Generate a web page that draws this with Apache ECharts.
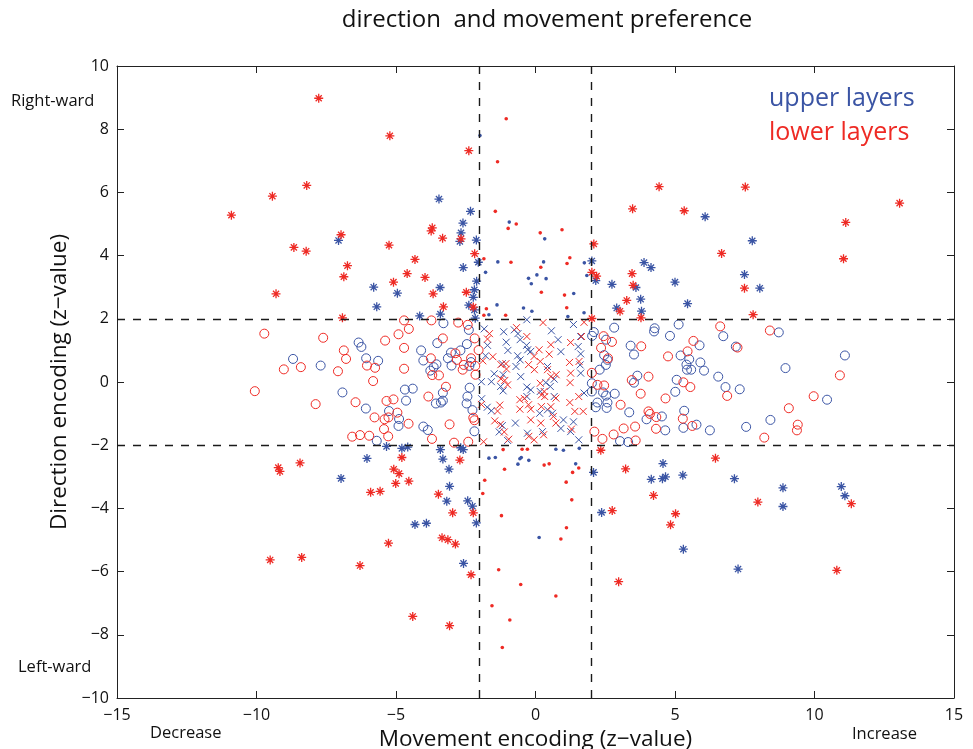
<!DOCTYPE html>
<html>
<head>
<meta charset="utf-8">
<script src="https://cdn.jsdelivr.net/npm/echarts@6/dist/echarts.min.js"></script>
<style>html,body{margin:0;padding:0;background:#fff}#c{width:973px;height:749px}</style>
</head>
<body>
<div id="c"></div>
<script>
// ---- data (z-values) ----
const thresholds = [-2, 2];
const xTicks = [-15, -10, -5, 0, 5, 10, 15];
const yTicks = [-10, -8, -6, -4, -2, 0, 2, 4, 6, 8, 10];

const upperStars = [[-3.46,5.79],[-2.33,5.40],[-2.60,5.03],[-2.67,4.72],[-2.71,4.45],[-2.12,4.49],[-7.06,4.48],[-2.05,3.79],[-2.59,3.62],
[6.08,5.23],[2.02,3.83],[3.89,3.78],[4.14,3.62],[7.49,3.40],[7.77,4.47],
[-2.11,3.19],[-5.80,3.00],[-4.95,2.81],[-3.42,2.99],[-2.19,2.92],[-2.23,2.68],[-5.69,2.38],[-2.39,2.43],[-2.19,2.28],[-4.15,2.09],[-3.41,2.15],[-2.16,2.02],
[2.16,3.21],[2.74,3.09],[3.60,2.99],[5.00,3.16],[3.77,2.62],[5.45,2.48],[2.91,2.34],[3.80,2.24],[8.04,2.97],
[-5.34,-2.04],[-4.79,-2.10],[-4.58,-2.06],[-3.41,-2.14],[-2.68,-2.08],[-2.59,-2.14],[-6.04,-2.42],[-3.32,-2.44],[-3.10,-2.76],[-6.97,-3.05],[-3.08,-3.30],
[-3.18,-3.77],[-2.43,-3.76],[-2.26,-3.93],[-4.32,-4.51],[-3.91,-4.47],[-2.12,-4.46],[-2.58,-5.74],
[4.57,-2.58],[2.08,-2.86],[4.15,-3.08],[4.55,-3.06],[4.66,-3.00],[5.28,-2.95],[7.13,-3.06],[2.37,-4.13],[5.30,-5.29],[7.26,-5.92],
[8.87,-3.35],[10.96,-3.31],[8.87,-3.94],[11.09,-3.60]];

const lowerStars = [[-7.77,8.98],[-8.20,6.22],[-9.43,5.88],[-10.90,5.28],[-8.66,4.26],[-8.22,4.14],
[-5.22,7.79],[-2.39,7.32],[-3.70,4.88],[-3.74,4.78],[-3.33,4.55],[-2.67,4.53],[-6.97,4.66],[-5.25,4.33],[-2.18,4.06],[-4.32,3.88],[-6.74,3.68],[-6.87,3.33],[-4.60,3.43],[-3.96,3.31],
[4.43,6.18],[3.48,5.48],[5.33,5.42],[7.52,6.17],[6.67,4.07],[2.09,4.37],[2.19,3.35],[3.46,3.43],[2.02,3.47],
[13.05,5.66],[11.12,5.05],[11.04,3.90],
[-9.30,2.79],[-5.09,3.16],[-3.67,2.79],[-2.48,2.84],[-3.30,2.38],[-2.23,2.37],[-6.92,2.03],
[3.50,3.06],[7.49,2.97],[3.27,2.58],[3.03,2.24],[3.78,2.03],[7.80,2.13],[2.02,2.01],
[-9.22,-2.71],[-9.16,-2.83],[-8.44,-2.56],[-4.79,-2.39],[-2.71,-2.47],[-5.08,-2.76],[-4.89,-2.90],[-5.01,-3.21],[-4.54,-3.14],
[-5.91,-3.49],[-5.57,-3.46],[-3.48,-3.55],[-2.97,-4.14],[-2.23,-4.14],[-3.35,-4.93],[-3.14,-4.99],[-2.87,-5.13],[-5.27,-5.10],[-6.29,-5.81],[-2.31,-6.10],[-4.40,-7.42],[-3.08,-7.71],
[-9.51,-5.63],[-8.38,-5.55],
[2.34,-2.16],[6.45,-2.41],[3.23,-2.75],[4.23,-3.59],[2.75,-4.07],[5.02,-4.17],[4.84,-4.52],[2.98,-6.32],
[7.97,-3.80],[11.32,-3.85],[10.80,-5.96]];

const upperCircles = [[-8.69,0.73],[-7.70,0.52],
[-3.30,1.86],[-2.39,1.65],[-6.34,1.25],[-6.24,1.11],[-3.52,1.23],[-2.46,1.20],[-4.10,1.00],[-3.03,0.93],[-2.69,1.00],[-6.07,0.75],[-5.64,0.67],[-4.02,0.68],[-3.14,0.75],[-3.55,0.56],[-3.65,0.47],[-3.01,0.52],[-2.37,0.51],[-2.31,0.63],[-3.77,0.36],[-6.92,-0.33],[-4.68,-0.24],[-4.40,-0.21],[-2.36,-0.18],[-3.32,-0.34],[-4.64,-0.59],[-3.57,-0.68],[-3.39,-0.65],[-3.32,-0.59],[-2.44,-0.46],[-2.47,-0.68],[-6.08,-0.84],[-5.25,-0.92],[-2.26,-0.89],[-4.89,-1.17],[-4.91,-1.39],[-4.02,-1.41],[-3.86,-1.52],[-2.19,-1.56],[-5.69,-1.86],
[2.09,1.58],[2.03,1.46],[2.82,1.72],[4.27,1.70],[4.25,1.60],[5.13,1.82],[4.82,1.46],[6.73,1.45],[2.53,1.34],[3.41,1.15],[3.53,0.87],[5.88,1.16],[7.18,1.12],[2.46,0.85],[2.58,0.70],[2.52,0.54],[5.20,0.84],[5.51,0.72],[5.41,0.55],[5.91,0.62],[5.43,0.39],[5.58,0.39],[6.04,0.36],[2.30,0.39],[3.65,0.20],[3.53,-0.02],[5.06,0.07],[6.55,0.17],[6.81,-0.16],[7.32,-0.23],[2.02,-0.04],[2.02,-0.30],[2.42,-0.33],[2.53,-0.43],[2.84,-0.37],[5.01,-0.31],[2.22,-0.65],[2.58,-0.65],[2.16,-0.80],[2.55,-0.82],[3.36,-0.96],[5.33,-0.91],[4.53,-1.09],[3.98,-1.18],[5.77,-1.35],[5.30,-1.45],[4.65,-1.53],[6.25,-1.53],[7.55,-1.42],[3.03,-1.87],[3.32,-1.90],
[8.72,1.57],[11.09,0.84],[8.96,0.44],[10.45,-0.56],[8.42,-1.20]];

const lowerCircles = [[-9.72,1.53],[-7.61,1.40],[-9.02,0.40],[-8.41,0.47],[-10.06,-0.29],[-7.88,-0.70],
[-4.71,1.95],[-3.73,1.95],[-2.77,1.88],[-4.54,1.68],[-2.43,1.81],[-4.91,1.51],[-5.39,1.31],[-3.32,1.38],[-2.18,1.38],[-4.71,1.08],[-6.87,1.00],[-6.79,0.73],[-2.04,1.01],[-2.87,0.91],[-3.75,0.75],[-2.82,0.70],[-2.31,0.75],[-6.04,0.52],[-5.75,0.45],[-4.71,0.42],[-7.08,0.34],[-2.57,0.54],[-2.61,0.39],[-2.16,0.51],[-3.70,0.22],[-3.46,0.21],[-2.15,0.23],[-5.82,0.03],[-3.21,-0.15],[-3.84,-0.46],[-6.45,-0.64],[-5.34,-0.60],[-5.09,-0.55],[-4.95,-0.97],[-5.77,-1.12],[-5.41,-1.18],[-5.27,-1.12],[-2.23,-1.13],[-2.19,-1.21],[-3.08,-1.34],[-4.55,-1.32],[-5.43,-1.49],[-6.57,-1.73],[-6.29,-1.68],[-5.96,-1.70],[-5.28,-1.72],[-3.71,-1.80],[-2.92,-1.92],[-2.41,-1.89],
[2.44,1.45],[2.74,1.27],[2.35,1.08],[3.79,1.13],[5.66,1.30],[6.62,1.76],[7.24,1.09],[5.45,0.97],[4.75,0.81],[2.60,0.75],[2.02,0.29],[4.05,0.17],[3.45,0.06],[5.30,-0.01],[5.55,-0.16],[2.22,-0.09],[2.46,-0.11],[3.77,-0.37],[4.66,-0.52],[6.87,-0.44],[3.05,-0.72],[4.05,-0.93],[4.10,-1.01],[4.33,-1.11],[5.28,-1.16],[3.57,-1.41],[3.16,-1.47],[4.32,-1.48],[5.62,-1.39],[2.11,-1.57],[2.80,-1.66],[2.40,-1.80],[3.59,-1.85],
[8.40,1.63],[10.91,0.21],[9.97,-0.45],[9.08,-0.83],[9.40,-1.35],[9.37,-1.53],[8.20,-1.76]];

const upperDots = [[-1.99,7.80],[-0.94,5.06],[-1.35,3.80],[-1.79,3.47],[0.05,3.39],[0.33,4.53],[0.29,3.80],[1.75,3.77],[1.84,3.37],
[-0.25,3.28],[-0.15,3.11],[-1.38,2.44],[-0.43,2.34],[-0.13,2.24],[-1.67,2.13],
[1.37,2.80],[1.74,2.19],[1.16,2.07],[0.38,3.27],
[-1.67,-2.41],[-1.44,-2.39],[-0.56,-2.43],[-0.51,-2.39],[-0.24,-2.48],[-0.63,-2.60],
[0.73,-2.13],[1.00,-2.16],[1.57,-2.10],[1.44,-2.59],[0.13,-4.92]];

const lowerDots = [[-1.05,8.33],[-1.36,6.97],[-1.44,5.40],[-0.69,5.00],[-0.98,4.86],[-1.85,3.90],[-0.88,3.79],[0.17,4.72],[0.95,4.82],[1.23,3.93],[1.13,3.75],[0.19,3.63],
[-1.76,2.32],[-1.85,2.11],[-1.07,2.11],
[0.21,2.84],[1.04,2.75],[1.12,2.35],
[-1.16,-2.14],[-0.48,-2.13],[-0.29,-2.13],[-1.11,-2.76],[-1.82,-3.11],
[0.31,-2.63],[0.49,-2.59],[1.55,-2.72],[1.33,-2.86],[1.10,-3.17],
[1.30,-3.73],[1.11,-4.61],[0.91,-4.97],[0.73,-6.77],
[-1.89,-3.53],[-1.22,-4.23],[-1.32,-5.94],[-0.53,-6.41],[-1.56,-7.08],[-0.92,-7.53],[-1.19,-8.40]];

const upperCrosses = [[-0.31,1.97],[-1.84,1.68],[-1.14,1.59],[-0.76,1.65],[-0.63,1.53],[-0.55,1.34],[-1.72,1.16],[-1.05,1.26],[-0.99,1.00],[-0.32,1.16],[-0.28,1.02],[-0.17,0.97],[-1.79,0.83],[-1.19,0.58],[-0.64,0.83],[-0.55,0.70],[-0.70,0.49],[-1.48,0.26],[-1.16,0.23],[-0.53,0.17],[-1.94,0.01],[-1.58,0.01],[-1.25,-0.14],[-1.16,-0.28],[-0.31,-0.16],[-0.17,-0.25],[-1.93,-0.53],[-0.31,-0.46],[-1.73,-0.80],[-1.58,-0.91],[-0.72,-1.30],[-1.19,-1.38],[-1.30,-1.58],[-1.00,-1.85],[-0.29,-1.62],
[0.57,1.62],[1.36,1.82],[0.91,0.96],[1.53,1.12],[1.62,0.89],[0.81,1.34],[1.60,0.54],[1.62,0.28],[0.67,0.09],[0.37,-0.02],[0.53,-0.14],[0.17,-0.30],[0.67,-0.46],[0.43,-0.88],[0.15,-0.99],[0.61,-0.99],[1.00,-1.20],[1.36,-1.26],[0.91,-1.47],[0.25,-1.57],[1.26,-1.57],[1.55,-1.83],[1.62,1.44],[0.43,0.49],[1.74,-0.35]];

const lowerCrosses = [[-0.68,1.72],[-0.31,1.44],[-1.65,1.53],[-1.72,1.36],[-1.53,0.80],[-1.89,0.67],[-1.24,0.55],[-1.06,0.58],[-1.04,0.41],[-0.05,0.81],[-0.25,0.55],[-0.04,0.39],[-1.00,-0.09],[-1.10,0.05],[-1.24,0.10],[-0.40,-0.52],[-0.56,-0.56],[-0.25,-0.72],[-0.56,-0.86],[-0.17,-0.86],[-1.94,-0.71],[-1.28,-0.73],[-1.36,-0.92],[-1.26,-1.34],[-1.46,-1.23],[-1.12,-1.58],[-0.17,-1.20],[-0.24,-1.72],[-0.05,-1.83],[-0.96,-1.81],[-1.86,-1.89],
[0.27,1.88],[1.74,1.89],[1.26,1.25],[1.65,1.44],[0.55,1.18],[0.13,1.02],[0.49,0.88],[0.17,0.65],[1.22,0.62],[1.56,0.65],[0.43,0.39],[1.26,0.28],[0.74,0.23],[0.55,0.17],[1.24,-0.02],[0.17,-0.04],[0.31,-0.30],[0.21,-0.41],[0.33,-0.46],[0.73,-0.51],[1.55,-0.46],[1.23,-0.65],[1.71,-0.93],[1.41,-0.93],[0.21,-0.78],[0.55,-0.78],[0.64,-1.09],[0.19,-1.30],[1.29,-1.49],[0.29,-1.67],[0.73,-1.30]];

// ---- styling ----
const BLUE = '#3a54a4';
const RED = '#ee2a24';
const FONT = 'Open Sans';
const STAR = 'path://M5,0L5,10M0,5L10,5M1.6,1.6L8.4,8.4M8.4,1.6L1.6,8.4';
const CROSS = 'path://M0,0L10,10M10,0L0,10';
const minus = v => String(v).replace('-', '\u2212');

function lineMark(data, color, symbol, size, bw) {
  return {
    type: 'scatter', data: data, symbol: symbol, symbolSize: size,
    itemStyle: { color: 'rgba(0,0,0,0)', borderColor: color, borderWidth: bw, opacity: 1 },
    emphasis: { disabled: true }, animation: false, silent: true
  };
}
function dotMark(data, color) {
  return {
    type: 'scatter', data: data, symbol: 'circle', symbolSize: 3.6,
    itemStyle: { color: color, opacity: 1 }, emphasis: { disabled: true }, animation: false, silent: true
  };
}

const dashStyle = { color: '#1a1a1a', width: 1.4, type: [8, 8] };
const guides = {
  type: 'scatter', data: [], silent: true, animation: false,
  markLine: {
    silent: true, symbol: 'none', animation: false, label: { show: false },
    lineStyle: dashStyle,
    data: thresholds.map(v => ({ xAxis: v })).concat(thresholds.map(v => ({ yAxis: v })))
  }
};

const chart = echarts.init(document.getElementById('c'), null, { renderer: 'canvas' });
const axisCommon = {
  axisLine: { show: true, onZero: false, lineStyle: { color: '#222', width: 1 } },
  axisTick: { show: true, inside: true, length: 7, lineStyle: { color: '#222', width: 1 } },
  splitLine: { show: false }
};
const txt = (t, x, y, size, color) => ({
  type: 'text', x: x, y: y, silent: true,
  style: { text: t, fill: color || '#111', font: size + 'px "Open Sans"', verticalAlign: 'middle' }
});
chart.setOption({
  animation: false,
  grid: { left: 117, right: 19, top: 66, bottom: 51, outerBoundsMode: 'none', containLabel: false },
  xAxis: [
    Object.assign({}, axisCommon, {
      type: 'value', min: xTicks[0], max: xTicks[xTicks.length - 1], interval: 5, position: 'bottom',
      name: 'Movement encoding (z\u2212value)', nameLocation: 'middle', nameGap: 27,
      nameTextStyle: { fontFamily: FONT, fontSize: 22.5, color: '#111' },
      axisLabel: { fontFamily: FONT, fontSize: 16, color: '#111', margin: 9, formatter: minus }
    }),
    Object.assign({}, axisCommon, {
      type: 'value', min: xTicks[0], max: xTicks[xTicks.length - 1], interval: 5, position: 'top',
      axisLabel: { show: false }
    })
  ],
  yAxis: [
    Object.assign({}, axisCommon, {
      type: 'value', min: yTicks[0], max: yTicks[yTicks.length - 1], interval: 2, position: 'left',
      name: 'Direction encoding (z\u2212value)', nameLocation: 'middle', nameGap: 41, nameRotate: 90,
      nameTextStyle: { fontFamily: FONT, fontSize: 22.5, color: '#111' },
      axisLabel: { fontFamily: FONT, fontSize: 16, color: '#111', margin: 8, formatter: minus }
    }),
    Object.assign({}, axisCommon, {
      type: 'value', min: yTicks[0], max: yTicks[yTicks.length - 1], interval: 2, position: 'right',
      axisLabel: { show: false }
    })
  ],
  graphic: [
    { type: 'text', x: 547, y: 20, silent: true,
      style: { text: 'direction  and movement preference', fill: '#111', font: '24px "Open Sans"', align: 'center', verticalAlign: 'middle' } },
    txt('upper layers', 769, 99, 25, BLUE),
    txt('lower layers', 769, 133, 25, RED),
    txt('Right-ward', 11, 101, 16.5),
    txt('Left-ward', 18, 667, 16.5),
    txt('Decrease', 150, 733, 16.5),
    txt('Increase', 852, 734, 16.5)
  ],
  series: [
    guides,
    dotMark(upperDots, BLUE),
    dotMark(lowerDots, RED),
    lineMark(upperCrosses, BLUE, CROSS, 7, 1),
    lineMark(lowerCrosses, RED, CROSS, 7, 1),
    lineMark(upperCircles, BLUE, 'circle', 9, 1),
    lineMark(lowerCircles, RED, 'circle', 9, 1),
    lineMark(upperStars, BLUE, STAR, 9, 1.3),
    lineMark(lowerStars, RED, STAR, 9, 1.3)
  ]
});
</script>
</body>
</html>
